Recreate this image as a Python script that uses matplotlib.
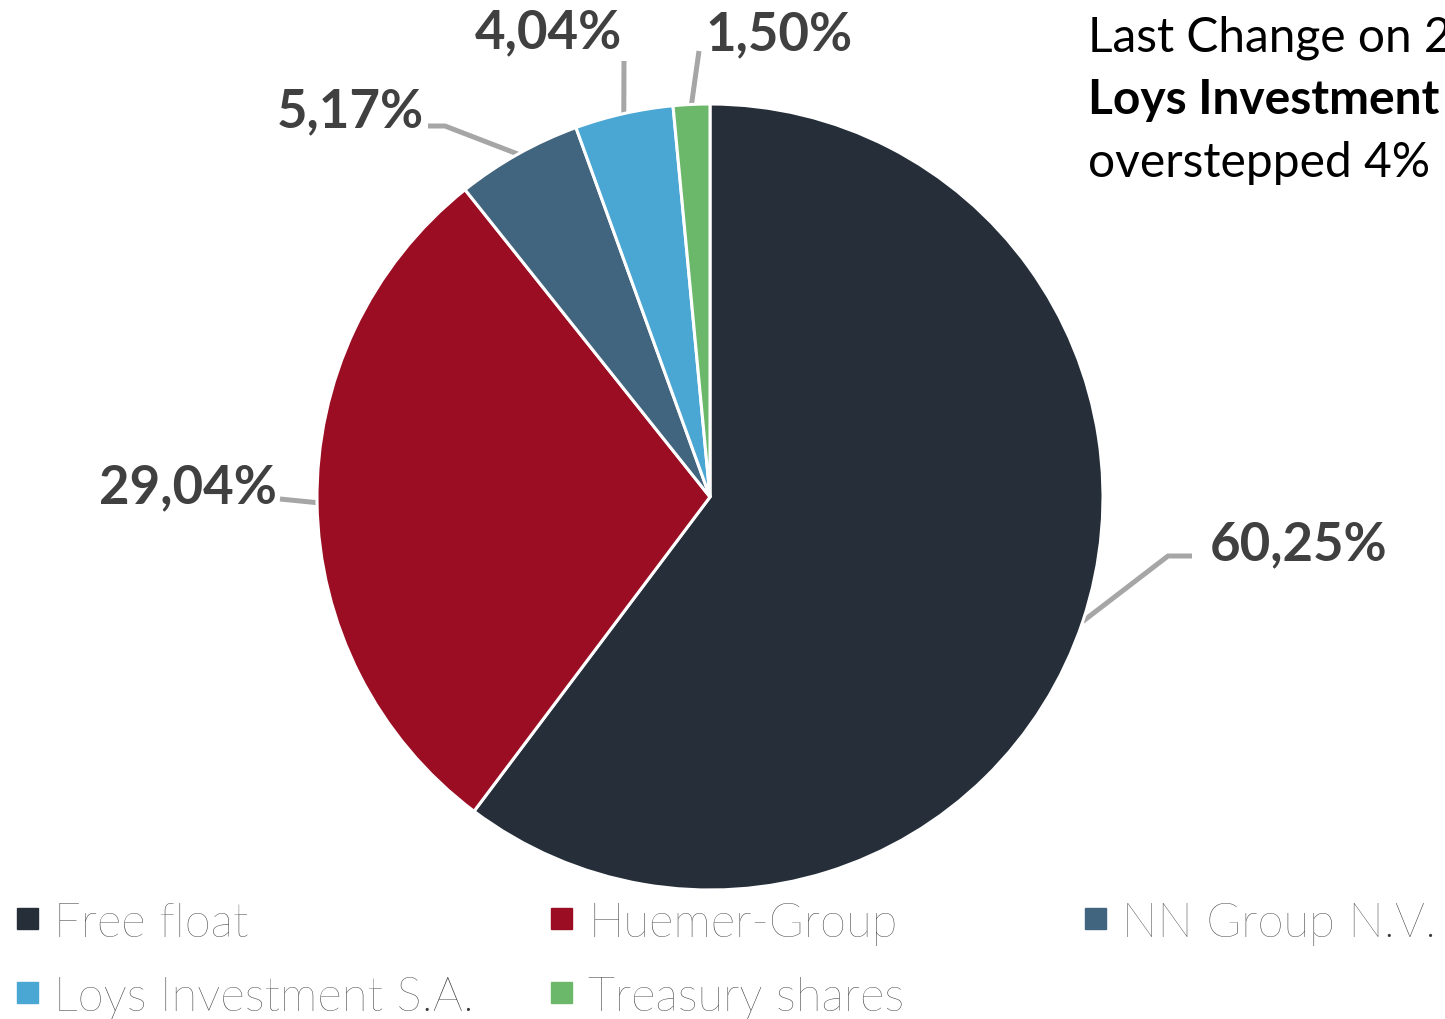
import numpy as np
import matplotlib.pyplot as plt
from matplotlib.patches import Rectangle

labels = ["Free float", "Huemer-Group", "NN Group N.V.", "Loys Investment S.A.", "Treasury shares"]
shares = [60.25, 29.04, 5.17, 4.04, 1.50]
colors = ["#252e39", "#9b0d23", "#41657f", "#4aa6d3", "#6cb86b"]
note = ["Last Change on 2", "Loys Investment S.A.", "overstepped 4%"]

W, H = 1445, 1020
CX, CY, R = 710, 498, 393  # pie centre and radius in pixels


def to_data(px, py):
    return (px - CX) / R, (CY - py) / R


fig = plt.figure(figsize=(W / 100, H / 100), dpi=100)
ax = fig.add_axes([0, 0, 1, 1])
wedges, _ = ax.pie(shares, colors=colors, startangle=90, counterclock=False,
                   wedgeprops=dict(edgecolor="white", linewidth=2.2))
ax.set_xlim(-CX / R, (W - CX) / R)
ax.set_ylim(-(H - CY) / R, CY / R)
ax.set_aspect("auto")
ax.axis("off")

# leader elbows and label anchors (pixels)
leaders = [
    ([(1168, 557), (1192, 557)], (1210, 560), "left"),
    ([(280, 500)], (277, 503), "right"),
    ([(445, 127), (428, 127)], (424, 127), "right"),
    ([(624, 62)], (548, 48), "center"),
    ([(699, 52)], (705, 50), "left"),
]
for w, v, (pts, tpos, ha) in zip(wedges, shares, leaders):
    mid = np.deg2rad((w.theta1 + w.theta2) / 2)
    xs = [np.cos(mid)] + [to_data(*p)[0] for p in pts]
    ys = [np.sin(mid)] + [to_data(*p)[1] for p in pts]
    ax.plot(xs, ys, color="#a6a6a6", lw=3.6, solid_capstyle="butt", zorder=0)
    tx, ty = to_data(*tpos)
    ax.text(tx, ty, f"{v:.2f}%".replace(".", ","), ha=ha, va="baseline",
            fontsize=38, fontweight="bold", family="Lato", color="#404040")

# note in the upper right corner
for i, line in enumerate(note):
    fig.text(1088 / W, 1 - (52 + i * 62.5) / H, line, ha="left", va="baseline",
             fontsize=34.5, family="Lato", color="black",
             fontweight="bold" if i == 1 else "normal")

# legend
for i, (lab, c) in enumerate(zip(labels, colors)):
    col, row = i % 3, i // 3
    x0 = 17 + col * 534
    y0 = 909 + row * 74
    fig.patches.append(Rectangle((x0 / W, 1 - (y0 + 21) / H), 21 / W, 21 / H,
                                 transform=fig.transFigure, color=c))
    fig.text((x0 + 37) / W, 1 - (y0 + 28) / H, lab, ha="left", va="baseline",
             fontsize=34, family="Lato", fontweight="light", color="#3a3a3a")

fig.savefig("out.png", dpi=100)
